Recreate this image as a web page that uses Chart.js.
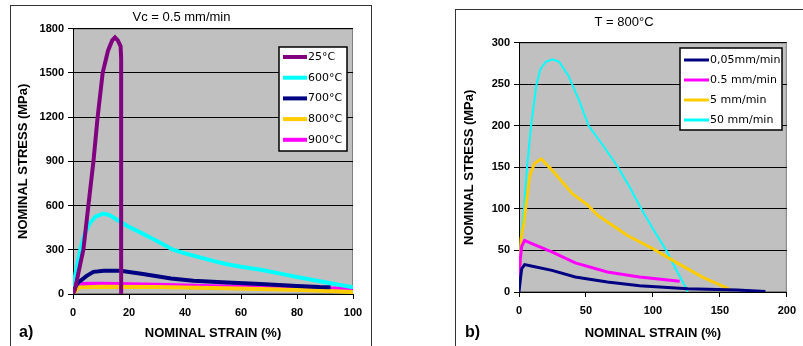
<!DOCTYPE html>
<html>
<head>
<meta charset="utf-8">
<script src="https://cdn.jsdelivr.net/npm/chart.js@4/dist/chart.umd.min.js"></script>
<style>
  body { margin: 0; background: #fff; width: 803px; height: 346px; overflow: hidden; position: relative; font-family: "Liberation Sans", Arial, sans-serif; }
  .frame { position: absolute; border: 1px solid #333; }
  #frameA { left: 10px; top: 5px; width: 360px; height: 400px; }
  #frameB { left: 455px; top: 9px; width: 400px; height: 400px; }
  canvas { position: absolute; top: 0; }
  #chartA { left: 0; }
  #chartB { left: 400px; }
  .tag { position: absolute; top: 323px; font-weight: bold; font-size: 16px; color: #000; }
</style>
</head>
<body>
<div class="frame" id="frameA"></div>
<div class="frame" id="frameB"></div>
<canvas id="chartA" width="400" height="346"></canvas>
<canvas id="chartB" width="403" height="346"></canvas>
<div class="tag" style="left:19px">a)</div>
<div class="tag" style="left:465px">b)</div>
<script>
// a) Vc = 0.5 mm/min, strain (%) vs stress (MPa)
const strain25 = [0, 0.7, 2, 3.7, 5.5, 7.3, 8.8, 10.6, 12.5, 14, 15, 16, 17, 17.2, 17.2];
const stress25 = [0, 30, 150, 300, 600, 900, 1200, 1500, 1650, 1720, 1740, 1720, 1680, 1600, 0];
const strain600 = [0, 1, 2.6, 4, 6, 8, 10.8, 13, 16, 20, 24, 30, 35.7, 40, 45, 50, 55, 60, 67, 75, 80, 90, 100];
const stress600 = [50, 150, 300, 400, 480, 525, 545, 535, 500, 455, 418, 360, 300, 276, 250, 225, 202, 185, 165, 135, 115, 80, 45];
const strain700 = [0, 2, 4.9, 7.3, 11, 17, 25, 35, 43, 55, 67, 80, 88, 92];
const stress700 = [30, 80, 123, 150, 158, 157, 135, 105, 90, 78, 67, 55, 47, 45];
const strain800 = [0, 2, 10, 30, 50, 67, 85, 100];
const stress800 = [0, 45, 49, 47, 40, 34, 25, 13];
const strain900 = [0, 1.7, 10, 30, 50, 70, 85, 100];
const stress900 = [30, 68, 70, 62, 52, 45, 40, 34];

// b) T = 800°C, one curve per crosshead speed
const strain005 = [0, 1, 2, 4.2, 10, 24.6, 42, 66, 90, 126, 163, 184];
const stress005 = [0, 15, 28, 33, 31, 26, 18, 12, 7.5, 4, 2.5, 0.5];
const strain05 = [0, 1, 2, 4.2, 10, 25, 42, 66, 90, 120];
const stress05 = [10, 40, 55, 62, 58, 48, 35, 24, 18, 13];
const strain5 = [0, 1, 1.5, 3.7, 8, 11.7, 16.6, 25, 40, 51, 59, 81, 100, 118, 137, 155, 157];
const stress5 = [10, 30, 64, 84, 140, 155, 160, 146, 118, 105, 92, 68, 52, 35, 18, 5, 3];
const strain50 = [0.5, 2, 3.7, 6, 9, 13, 16, 20, 25, 30, 37, 45, 52, 62, 74, 83, 91, 100, 110, 118, 123, 126];
const stress50 = [40, 75, 100, 150, 200, 249, 268, 277, 280, 277, 260, 230, 200, 178, 150, 125, 101, 76, 50, 25, 10, 0];

const tickFont = { family: 'Liberation Sans', size: 11, weight: 'bold' };
const axisFont = { family: 'Liberation Sans', size: 13, weight: 'bold' };

function points(xs, ys) {
    return xs.map((x, i) => ({ x, y: ys[i] }));
}

function series(label, xs, ys, color, width) {
    return {
        label,
        data: points(xs, ys),
        borderColor: color,
        backgroundColor: color,
        borderWidth: width,
        showLine: true,
        pointRadius: 0,
        tension: 0
    };
}

const plotBackground = {
    id: 'plotBackground',
    beforeDraw(chart) {
        const { ctx, chartArea: { left, top, width, height } } = chart;
        ctx.save();
        ctx.fillStyle = '#c0c0c0';
        ctx.fillRect(left, top, width, height);
        ctx.strokeStyle = '#808080';
        ctx.lineWidth = 1;
        ctx.strokeRect(left + 0.5, top + 0.5, width - 1, height - 1);
        ctx.restore();
    }
};

const boxLegend = {
    id: 'boxLegend',
    afterDraw(chart, args, opts) {
        const { ctx } = chart;
        ctx.save();
        ctx.fillStyle = '#fff';
        ctx.fillRect(opts.x, opts.y, opts.w, opts.h);
        ctx.strokeStyle = '#000';
        ctx.lineWidth = 1.5;
        ctx.strokeRect(opts.x, opts.y, opts.w, opts.h);
        ctx.font = '11px "DejaVu Sans"';
        ctx.textBaseline = 'middle';
        chart.data.datasets.forEach((ds, i) => {
            const y = opts.y + opts.first + i * opts.row;
            ctx.strokeStyle = ds.borderColor;
            ctx.lineWidth = opts.lineWidth;
            ctx.beginPath();
            ctx.moveTo(opts.x + 4, y);
            ctx.lineTo(opts.x + 4 + opts.lineLen, y);
            ctx.stroke();
            ctx.fillStyle = '#000';
            ctx.fillText(ds.label, opts.x + 5 + opts.lineLen, y);
        });
        ctx.restore();
    }
};

function buildOptions(cfg) {
    return {
        responsive: false,
        animation: false,
        layout: { padding: cfg.padding },
        plugins: {
            legend: { display: false },
            tooltip: { enabled: false },
            title: {
                display: true,
                text: cfg.title,
                color: '#000',
                font: { family: 'Liberation Sans', size: 13, weight: 'normal' },
                padding: cfg.titlePadding
            },
            boxLegend: cfg.legend
        },
        scales: {
            x: {
                type: 'linear',
                min: cfg.xMin, max: cfg.xMax,
                afterFit: (scale) => { scale.height = cfg.xHeight; },
                border: { color: '#000', width: 1 },
                grid: { drawOnChartArea: false, color: '#000', tickLength: 5 },
                ticks: { stepSize: cfg.xStep, color: '#000', font: tickFont, padding: 7, maxRotation: 0, callback: (v) => String(v) },
                title: { display: true, text: 'NOMINAL STRAIN (%)', color: '#000', font: axisFont, padding: { top: 4, bottom: 5 } }
            },
            y: {
                min: cfg.yMin, max: cfg.yMax,
                afterFit: (scale) => { scale.width = cfg.yWidth; },
                border: { color: '#000', width: 1 },
                grid: { color: '#000', tickLength: 5 },
                ticks: { stepSize: cfg.yStep, color: '#000', font: tickFont, padding: 4, callback: (v) => String(v) },
                title: { display: true, text: 'NOMINAL STRESS (MPa)', color: '#000', font: axisFont, padding: { top: 6, bottom: 4 } }
            }
        }
    };
}

new Chart(document.getElementById('chartA'), {
    type: 'scatter',
    data: {
        datasets: [
            series('25°C', strain25, stress25, '#800080', 4),
            series('600°C', strain600, stress600, '#00ffff', 4),
            series('700°C', strain700, stress700, '#000080', 4),
            series('800°C', strain800, stress800, '#ffcc00', 4),
            series('900°C', strain900, stress900, '#ff00ff', 4)
        ]
    },
    options: buildOptions({
        title: 'Vc = 0.5 mm/min',
        titlePadding: { top: 10, bottom: 3 },
        padding: { left: 10, right: 47, top: 0, bottom: 0 },
        xMin: 0, xMax: 100, xStep: 20, xHeight: 52,
        yMin: 0, yMax: 1800, yStep: 300, yWidth: 63,
        legend: { x: 279, y: 47, w: 68, h: 104, first: 10, row: 20.7, lineLen: 24, lineWidth: 4 }
    }),
    plugins: [plotBackground, boxLegend]
});

new Chart(document.getElementById('chartB'), {
    type: 'scatter',
    data: {
        datasets: [
            series('0,05mm/min', strain005, stress005, '#000080', 3),
            series('0.5 mm/min', strain05, stress05, '#ff00ff', 3),
            series('5 mm/min', strain5, stress5, '#ffcc00', 3),
            series('50 mm/min', strain50, stress50, '#00ffff', 2)
        ]
    },
    options: buildOptions({
        title: 'T = 800°C',
        titlePadding: { top: 15, bottom: 12 },
        padding: { left: 56, right: 11, top: 0, bottom: 0 },
        xMin: 0, xMax: 200, xStep: 50, xHeight: 54,
        yMin: 0, yMax: 300, yStep: 50, yWidth: 63,
        legend: { x: 280, y: 48, w: 102, h: 82, first: 12, row: 20, lineLen: 25, lineWidth: 3 }
    }),
    plugins: [plotBackground, boxLegend]
});
</script>
</body>
</html>
